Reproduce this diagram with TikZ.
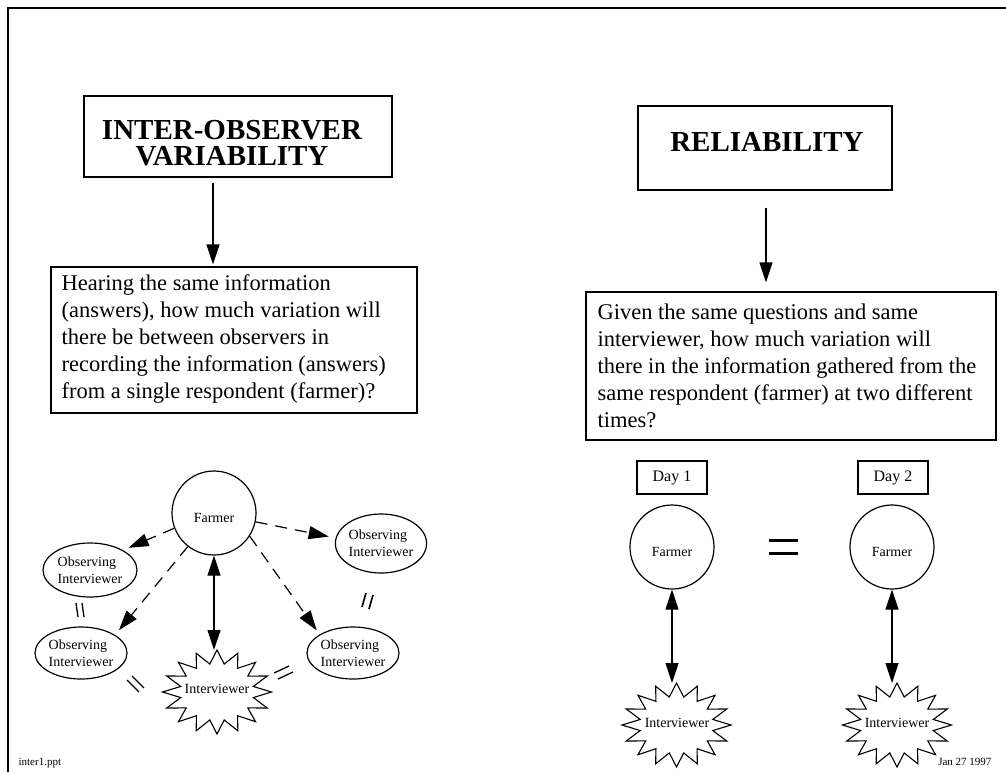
\documentclass[tikz,border=0pt]{standalone}
\usepackage{fontspec}
\setmainfont{Liberation Serif}
\usetikzlibrary{arrows.meta,shapes.geometric,calc}
\newcommand{\burstshape}[1]{%
  \draw[line width=1.1pt] ([shift={(#1)}]0:54.5pt and 42pt)
    \foreach \a in {22.5,45,...,360}{ -- ([shift={(#1)}]{\a-11.25}:37pt and 28.5pt) -- ([shift={(#1)}]\a:54.5pt and 42pt)} -- cycle;}
\begin{document}
\begin{tikzpicture}[x=1pt,y=-1pt,line width=1.2pt,
  box/.style={draw,line width=1.2pt,inner sep=0pt},
  titletext/.style={font=\fontsize{29}{26}\selectfont\bfseries,align=center,inner sep=0pt},
  bodytext/.style={font=\fontsize{22.5}{27}\selectfont,align=left,anchor=west,inner sep=0pt},
  arr/.style={-{Triangle[length=20pt,width=13pt]},line width=1.2pt},
  dbl/.style={{Triangle[length=20pt,width=13pt]}-{Triangle[length=20pt,width=13pt]},line width=1.2pt},
  darr/.style={arr,dash pattern=on 12pt off 8pt},
  farmer/.style={circle,draw,minimum size=84pt,inner sep=0pt,font=\fontsize{14}{17}\selectfont,text height=19pt,text depth=0pt},
  obs/.style={ellipse,draw,inner sep=0pt,font=\fontsize{14}{17}\selectfont,align=left},
  ivtext/.style={font=\fontsize{14}{17}\selectfont,inner sep=0pt},
  daybox/.style={draw,minimum width=70pt,minimum height=33pt,inner sep=0pt,font=\fontsize{16}{19}\selectfont},
  foot/.style={font=\fontsize{11}{13}\selectfont,inner sep=0pt},
  eqmark/.style={line width=1.3pt}]
\useasboundingbox (0,0) rectangle (1006,772);
\fill[white] (0,0) rectangle (1006,772);
% frame
\draw[line width=2.3pt] (8,772) -- (8,8) -- (1006,8);

% ---------- left column ----------
\node[box,minimum width=308pt,minimum height=81pt] (t1box) at (238,136.5) {};
\node[titletext] (t1) at (232,143) {INTER-OBSERVER\\VARIABILITY};
\node[box,minimum width=366pt,minimum height=146pt] (q1box) at (234,340) {};
\node[bodytext] (q1) at (61,339) {Hearing the same information\\(answers), how much variation will\\there be between observers in\\recording the information (answers)\\from a single respondent (farmer)?};
\draw[arr] ([xshift=-25pt,yshift=-5pt]t1box.south) -- ([xshift=-21pt,yshift=2pt]q1box.north);

% left diagram
\node[farmer] (f0) at (214,513) {Farmer};
\node[obs,minimum width=94pt,minimum height=54pt] (e1) at (90,570) {Observing\\Interviewer};
\node[obs,minimum width=92pt,minimum height=52pt] (e2) at (81,653) {Observing\\Interviewer};
\node[obs,minimum width=82pt,minimum height=59pt] (e3) at (381,543.5) {Observing\\Interviewer};
\node[obs,minimum width=92pt,minimum height=52pt] (e4) at (353,653) {Observing\\Interviewer};
\coordinate (s0) at (217,692);
\burstshape{s0}
\node[ivtext] (iv0) at (217,689) {Interviewer};
\coordinate (s0top) at ($(s0)+(0,-42)$);

\draw[dbl] (f0.south) -- (f0.south |- s0top);
\draw[darr,shorten >=6pt] (f0.201) -- (e1.31);
\draw[darr,shorten >=6pt] (f0.232) -- (e2.28);
\draw[darr,shorten >=7pt] (f0.348) -- (e3.173);
\draw[darr,shorten >=5pt] (f0.327) -- (e4.151);

% equality marks
\draw[eqmark] (76,603) -- (78,617);
\draw[eqmark] (82,603) -- (84,617);
\draw[eqmark] (127,680) -- (139,692);
\draw[eqmark] (132,676) -- (144,688);
\draw[eqmark,line width=1.6pt] (366,593) -- (362,607);
\draw[eqmark,line width=1.6pt] (373,595) -- (369,609);
\draw[eqmark] (274,673) -- (289,666);
\draw[eqmark] (278,679) -- (293,672);

% ---------- right column ----------
\node[box,minimum width=254pt,minimum height=84pt] (t2box) at (765,148) {};
\node[titletext] (t2) at (767,142) {RELIABILITY};
\node[box,minimum width=410pt,minimum height=148pt] (q2box) at (791,366) {};
\node[bodytext] (q2) at (597,366) {Given the same questions and same\\interviewer, how much variation will\\there in the information gathered from the\\same respondent (farmer) at two different\\times?};
\draw[arr] ([xshift=1pt,yshift=-17pt]t2box.south) -- ([xshift=-25pt,yshift=9pt]q2box.north);

\node[daybox] (d1) at (672,477.5) {Day 1};
\node[daybox] (d2) at (893,477.5) {Day 2};
\node[farmer] (f1) at (672,547) {Farmer};
\node[farmer] (f2) at (892,547) {Farmer};

\coordinate (s1) at (676.5,725);
\burstshape{s1}
\node[ivtext] (iv1) at (677,723) {Interviewer};
\coordinate (s1top) at ($(s1)+(0,-42)$);
\coordinate (s2) at (897,725);
\burstshape{s2}
\node[ivtext] (iv2) at (897,723) {Interviewer};
\coordinate (s2top) at ($(s2)+(0,-42)$);

\draw[dbl] (f1.south) -- (f1.south |- s1top);
\draw[dbl] (f2.south) -- (f2.south |- s2top);

\draw[line width=3pt] (769,540) -- (798,540);
\draw[line width=3pt] (769,553) -- (798,553);

% footers
\node[foot,anchor=west] (ft1) at (18,763) {inter1.ppt};
\node[foot,anchor=east] (ft2) at (992,762) {Jan 27 1997};
\end{tikzpicture}
\end{document}
